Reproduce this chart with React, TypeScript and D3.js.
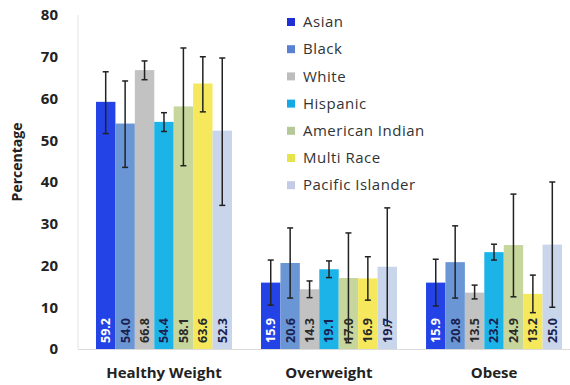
import React from "react";
import * as d3 from "d3";

const categories = ["Healthy Weight", "Overweight", "Obese"];
const seriesNames = ["Asian", "Black", "White", "Hispanic", "American Indian", "Multi Race", "Pacific Islander"];
const seriesColors = ["#2443e6", "#6a96d6", "#c2c2c2", "#1cb3e8", "#c6d69c", "#f6e85c", "#c8d5ea"];
const legendColors = ["#1f2fd6", "#5a80d2", "#bdbdbd", "#14a8e4", "#b4c898", "#e6e44a", "#c4cbe4"];
const labelColors = ["#ffffff", "#1a2050", "#2a2a2a", "#1a2050", "#2a2a2a", "#2a2a2a", "#1a2050"];

// values[series][category]
const valHealthy = [59.2, 54.0, 66.8, 54.4, 58.1, 63.6, 52.3];
const valOverweight = [15.9, 20.6, 14.3, 19.1, 17.0, 16.9, 19.7];
const valObese = [15.9, 20.8, 13.5, 23.2, 24.9, 13.2, 25.0];

const lowHealthy = [51.6, 43.5, 64.5, 52.1, 43.9, 56.8, 34.4];
const highHealthy = [66.4, 64.2, 69.0, 56.6, 72.1, 70.0, 69.7];
const lowOverweight = [10.5, 12.2, 12.3, 17.1, 1.5, 11.7, 5.6];
const highOverweight = [21.3, 29.0, 16.3, 21.1, 27.8, 22.1, 33.8];
const lowObese = [10.3, 12.2, 12.0, 21.3, 12.5, 8.7, 10.0];
const highObese = [21.5, 29.5, 15.3, 25.1, 37.1, 17.7, 40.0];

const yTicks = [0, 10, 20, 30, 40, 50, 60, 70, 80];

const values = [valHealthy, valOverweight, valObese];
const lows = [lowHealthy, lowOverweight, lowObese];
const highs = [highHealthy, highOverweight, highObese];

export default function App() {
  const W = 570, H = 385;
  const y = d3.scaleLinear().domain([0, 80]).range([349, 15]);
  const x0 = d3.scaleBand<string>().domain(categories).range([78, 580]).paddingInner(0.176).paddingOuter(0.109);
  const x1 = d3.scaleBand<string>().domain(seriesNames).range([0, x0.bandwidth()]);
  const font = "'Open Sans', 'DejaVu Sans', sans-serif";

  return (
    <svg width={W} height={H} style={{ position: "absolute", left: 0, top: 0, background: "#fff" }}>
      <line x1={78} x2={78} y1={y(80)} y2={y(0)} stroke="#e4e4e4" strokeWidth={1} />
      <line x1={78} x2={570} y1={y(0) + 0.5} y2={y(0) + 0.5} stroke="#dcdcdc" strokeWidth={1} />
      {yTicks.map((t) => (
        <text key={t} x={58} y={y(t)} dy="0.35em" textAnchor="end" fontFamily={font} fontWeight="bold" fontSize={15} fill="#222">
          {t}
        </text>
      ))}
      <text transform={`translate(22,${162}) rotate(-90)`} textAnchor="middle" fontFamily={font} fontWeight="bold" fontSize={14} fill="#222">
        Percentage
      </text>
      {categories.map((c, ci) => (
        <g key={c} transform={`translate(${x0(c)},0)`}>
          {seriesNames.map((s, si) => {
            const v = values[ci][si];
            const bx = x1(s)!;
            const bw = x1.bandwidth();
            return (
              <rect key={s} x={bx} y={y(v)} width={bw} height={y(0) - y(v)} fill={seriesColors[si]} />
            );
          })}
          {seriesNames.map((s, si) => {
            const cx = x1(s)! + x1.bandwidth() / 2;
            const lo = lows[ci][si], hi = highs[ci][si];
            return (
              <g key={s} stroke="#222" strokeWidth={1.5}>
                <line x1={cx} x2={cx} y1={y(hi)} y2={y(lo)} />
                <line x1={cx - 3} x2={cx + 3} y1={y(hi)} y2={y(hi)} />
                <line x1={cx - 3} x2={cx + 3} y1={y(lo)} y2={y(lo)} />
              </g>
            );
          })}
          {seriesNames.map((s, si) => {
            const cx = x1(s)! + x1.bandwidth() / 2;
            const v = values[ci][si];
            return (
              <text key={s} transform={`translate(${cx},${343}) rotate(-90)`} dy="0.35em" textAnchor="start" fontFamily={font} fontWeight="bold" fontSize={12.5} fill={labelColors[si]}>
                {v.toFixed(1)}
              </text>
            );
          })}
          <text x={x0.bandwidth() / 2} y={378} textAnchor="middle" fontFamily={font} fontWeight="bold" fontSize={15} fill="#222">
            {c}
          </text>
        </g>
      ))}
      {seriesNames.map((s, si) => (
        <g key={s} transform={`translate(287,${22 + si * 27.2})`}>
          <rect x={0} y={-4} width={8} height={8} fill={legendColors[si]} />
          <text x={16} y={0} dy="0.35em" fontFamily={font} fontSize={15} letterSpacing={0.5} fill="#333">
            {s}
          </text>
        </g>
      ))}
    </svg>
  );
}
